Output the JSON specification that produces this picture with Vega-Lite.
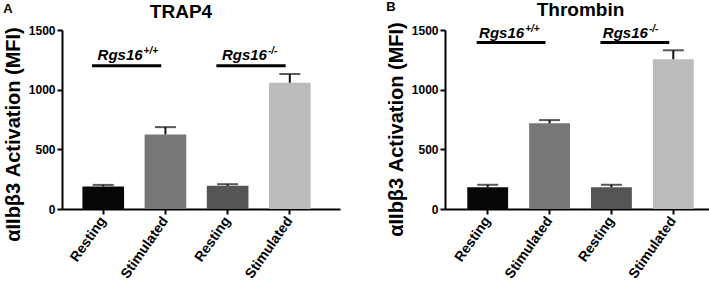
{
  "$schema": "https://vega.github.io/schema/vega-lite/v6.json",
  "padding": {"left": 3, "top": 0, "right": 0, "bottom": 0},
  "spacing": 46,
  "config": {
    "view": {"stroke": null},
    "font": "Liberation Sans",
    "axis": {
      "domainColor": "#000",
      "domainWidth": 2,
      "tickColor": "#000",
      "tickWidth": 2,
      "tickSize": 5,
      "labelColor": "#000",
      "labelFont": "Liberation Sans",
      "labelFontWeight": "bold",
      "titleFont": "Liberation Sans",
      "titleColor": "#000",
      "grid": false
    },
    "title": {"font": "Liberation Sans", "color": "#000", "fontWeight": "bold"}
  },
  "datasets": {
    "bars": [
      {"panel": "A", "id": "WT|Resting", "value": 189, "upper": 202},
      {"panel": "A", "id": "WT|Stimulated", "value": 625, "upper": 686},
      {"panel": "A", "id": "KO|Resting", "value": 194, "upper": 208},
      {"panel": "A", "id": "KO|Stimulated", "value": 1058, "upper": 1131},
      {"panel": "B", "id": "WT|Resting", "value": 182, "upper": 203},
      {"panel": "B", "id": "WT|Stimulated", "value": 718, "upper": 745},
      {"panel": "B", "id": "KO|Resting", "value": 182, "upper": 203},
      {"panel": "B", "id": "KO|Stimulated", "value": 1255, "upper": 1330}
    ],
    "groups": [
      {"panel": "A", "from": "WT|Resting", "to": "WT|Stimulated", "level": 1200, "name": "Rgs16", "sup": "+/+"},
      {"panel": "A", "from": "KO|Resting", "to": "KO|Stimulated", "level": 1200, "name": "Rgs16", "sup": "-/-"},
      {"panel": "B", "from": "WT|Resting", "to": "WT|Stimulated", "level": 1395, "name": "Rgs16", "sup": "+/+"},
      {"panel": "B", "from": "KO|Resting", "to": "KO|Stimulated", "level": 1395, "name": "Rgs16", "sup": "-/-"}
    ]
  },
  "hconcat": [
    {
      "title": {"text": "A", "anchor": "start", "frame": "bounds", "fontSize": 13, "offset": -13},
      "vconcat": [
        {
          "width": 278,
          "height": 179,
          "title": {"text": "TRAP4", "fontSize": 19, "frame": "group", "dx": -20, "offset": 2},
          "layer": [
            {
              "data": {"name": "bars"},
              "transform": [{"filter": "datum.panel === 'A'"}],
              "mark": {"type": "bar"},
              "encoding": {
                "x": {"field": "id", "type": "nominal", "sort": null,
                  "scale": {"domain": ["WT|Resting", "WT|Stimulated", "KO|Resting", "KO|Stimulated"], "paddingInner": 0.33, "paddingOuter": 0.4, "align": 0.41},
                  "axis": {"title": null, "labelExpr": "split(datum.label, '|')[1]", "labelAngle": -55, "labelAlign": "right", "labelBaseline": "middle", "labelFontSize": 14, "labelPadding": 4}},
                "y": {"field": "value", "type": "quantitative",
                  "scale": {"domain": [0, 1500], "nice": false},
                  "axis": {"values": [0, 500, 1000, 1500], "format": "d", "title": "αIIbβ3 Activation (MFI)", "titleFontSize": 20, "titleFontWeight": "bold", "titlePadding": 5, "titleY": 104, "labelFontSize": 12, "labelPadding": 2}},
                "color": {"field": "id", "type": "nominal", "legend": null,
                  "scale": {"domain": ["WT|Resting", "WT|Stimulated", "KO|Resting", "KO|Stimulated"], "range": ["#060606", "#777777", "#555555", "#bbbbbb"]}}
              }
            },
            {
              "data": {"name": "bars"},
              "transform": [{"filter": "datum.panel === 'A'"}],
              "mark": {"type": "rule", "strokeWidth": 2, "color": "#111"},
              "encoding": {
                "x": {"field": "id", "type": "nominal", "sort": null},
                "y": {"field": "value", "type": "quantitative"},
                "y2": {"field": "upper"}
              }
            },
            {
              "data": {"name": "bars"},
              "transform": [{"filter": "datum.panel === 'A'"}],
              "mark": {"type": "tick", "thickness": 2, "size": 21, "color": "#111"},
              "encoding": {
                "x": {"field": "id", "type": "nominal", "sort": null},
                "y": {"field": "upper", "type": "quantitative"}
              }
            },
            {
              "data": {"name": "groups"},
              "transform": [{"filter": "datum.panel === 'A'"}],
              "mark": {"type": "rule", "strokeWidth": 3, "color": "#000"},
              "encoding": {
                "x": {"field": "from", "type": "nominal", "bandPosition": 0.23},
                "x2": {"field": "to", "bandPosition": 0.4},
                "y": {"field": "level", "type": "quantitative"}
              }
            },
            {
              "data": {"name": "groups"},
              "transform": [{"filter": "datum.panel === 'A'"}],
              "mark": {"type": "text", "align": "right", "baseline": "alphabetic", "fontSize": 15, "fontWeight": "bold", "fontStyle": "italic", "dx": -2, "dy": -6, "color": "#000"},
              "encoding": {
                "x": {"field": "to", "type": "nominal", "bandPosition": 0},
                "y": {"field": "level", "type": "quantitative"},
                "text": {"field": "name"}
              }
            },
            {
              "data": {"name": "groups"},
              "transform": [{"filter": "datum.panel === 'A'"}],
              "mark": {"type": "text", "align": "left", "baseline": "alphabetic", "fontSize": 10, "fontWeight": "bold", "fontStyle": "italic", "dx": -1, "dy": -12, "color": "#000"},
              "encoding": {
                "x": {"field": "to", "type": "nominal", "bandPosition": 0},
                "y": {"field": "level", "type": "quantitative"},
                "text": {"field": "sup"}
              }
            }
          ]
        }
      ]
    },
    {
      "title": {"text": "B", "anchor": "start", "frame": "bounds", "fontSize": 13, "offset": -13},
      "vconcat": [
        {
          "width": 271,
          "height": 179,
          "title": {"text": "Thrombin", "fontSize": 19, "frame": "group", "dx": 0, "offset": 2},
          "layer": [
            {
              "data": {"name": "bars"},
              "transform": [{"filter": "datum.panel === 'B'"}],
              "mark": {"type": "bar"},
              "encoding": {
                "x": {"field": "id", "type": "nominal", "sort": null,
                  "scale": {"domain": ["WT|Resting", "WT|Stimulated", "KO|Resting", "KO|Stimulated"], "paddingInner": 0.34, "paddingOuter": 0.36, "align": 0.5},
                  "axis": {"title": null, "labelExpr": "split(datum.label, '|')[1]", "labelAngle": -55, "labelAlign": "right", "labelBaseline": "middle", "labelFontSize": 14, "labelPadding": 4}},
                "y": {"field": "value", "type": "quantitative",
                  "scale": {"domain": [0, 1500], "nice": false},
                  "axis": {"values": [0, 500, 1000, 1500], "format": "d", "title": "αIIbβ3 Activation (MFI)", "titleFontSize": 20, "titleFontWeight": "bold", "titlePadding": 5, "titleY": 99, "labelFontSize": 12, "labelPadding": 2}},
                "color": {"field": "id", "type": "nominal", "legend": null,
                  "scale": {"domain": ["WT|Resting", "WT|Stimulated", "KO|Resting", "KO|Stimulated"], "range": ["#060606", "#777777", "#555555", "#bbbbbb"]}}
              }
            },
            {
              "data": {"name": "bars"},
              "transform": [{"filter": "datum.panel === 'B'"}],
              "mark": {"type": "rule", "strokeWidth": 2, "color": "#111"},
              "encoding": {
                "x": {"field": "id", "type": "nominal", "sort": null},
                "y": {"field": "value", "type": "quantitative"},
                "y2": {"field": "upper"}
              }
            },
            {
              "data": {"name": "bars"},
              "transform": [{"filter": "datum.panel === 'B'"}],
              "mark": {"type": "tick", "thickness": 2, "size": 21, "color": "#111"},
              "encoding": {
                "x": {"field": "id", "type": "nominal", "sort": null},
                "y": {"field": "upper", "type": "quantitative"}
              }
            },
            {
              "data": {"name": "groups"},
              "transform": [{"filter": "datum.panel === 'B'"}],
              "mark": {"type": "rule", "strokeWidth": 3, "color": "#000"},
              "encoding": {
                "x": {"field": "from", "type": "nominal", "bandPosition": 0.23},
                "x2": {"field": "to", "bandPosition": 0.4},
                "y": {"field": "level", "type": "quantitative"}
              }
            },
            {
              "data": {"name": "groups"},
              "transform": [{"filter": "datum.panel === 'B'"}],
              "mark": {"type": "text", "align": "right", "baseline": "alphabetic", "fontSize": 15, "fontWeight": "bold", "fontStyle": "italic", "dx": -5, "dy": -5, "color": "#000"},
              "encoding": {
                "x": {"field": "to", "type": "nominal", "bandPosition": 0},
                "y": {"field": "level", "type": "quantitative"},
                "text": {"field": "name"}
              }
            },
            {
              "data": {"name": "groups"},
              "transform": [{"filter": "datum.panel === 'B'"}],
              "mark": {"type": "text", "align": "left", "baseline": "alphabetic", "fontSize": 10, "fontWeight": "bold", "fontStyle": "italic", "dx": -4, "dy": -11, "color": "#000"},
              "encoding": {
                "x": {"field": "to", "type": "nominal", "bandPosition": 0},
                "y": {"field": "level", "type": "quantitative"},
                "text": {"field": "sup"}
              }
            }
          ]
        }
      ]
    }
  ]
}
